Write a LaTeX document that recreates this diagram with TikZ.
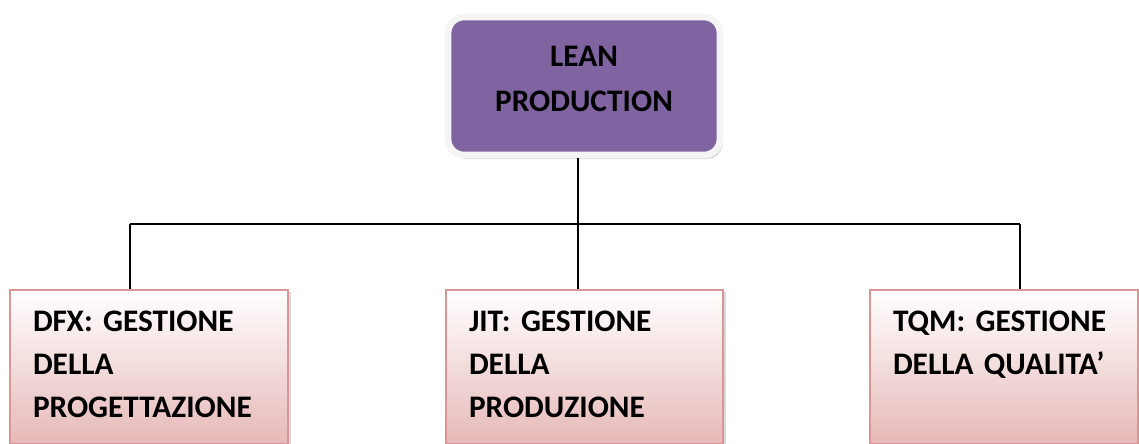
\documentclass[tikz,border=0pt]{standalone}
\usepackage{fontspec}
\setmainfont{Carlito}
\usetikzlibrary{positioning, shadows}
\definecolor{leanpurple}{HTML}{8064A2}
\definecolor{pinkline}{HTML}{D99694}
\definecolor{pinkfill}{HTML}{E6B9B8}
\frenchspacing
\DeclareRobustCommand\boxfont{\fontsize{23.5}{32.25}\selectfont\bfseries\spaceskip=0.2em\relax}
\tikzset{x=0.75pt, y=-0.75pt,
  leanbox/.style={font=\fontsize{23.5}{33.75}\selectfont\bfseries, rounded corners=12pt,
    fill=leanpurple, draw=gray!8, line width=5pt,
    minimum width=204pt, minimum height=103.5pt, align=center, text depth=10.5pt,
    drop shadow={shadow xshift=2pt, shadow yshift=-3pt, fill=gray!60}},
  areabox/.style={font=\boxfont, draw=pinkline, line width=1.5pt, top color=white, bottom color=pinkfill,
    anchor=north west, align=left, inner sep=17.25pt, text height=13.5pt, text depth=67.5pt,
    drop shadow={shadow xshift=2pt, shadow yshift=-1.5pt, fill=gray!50, opacity=0.6}},
  link/.style={line width=1.5pt}}
\begin{document}
\begin{tikzpicture}
\useasboundingbox (0,0) rectangle (1139,443);
\node[leanbox] (lean) at (584,86) {LEAN\\PRODUCTION};
\node[areabox, text width=174pt] (dfx) at (9,289) {DFX: GESTIONE\\DELLA\\PROGETTAZIONE};
\node[areabox, text width=173.25pt] (jit) at (445,289) {JIT: GESTIONE\\DELLA\\PRODUZIONE};
\node[areabox, text width=166.5pt] (tqm) at (869,289) {TQM: GESTIONE\\DELLA QUALITA’};
% tree lines
\coordinate (hub) at (578,224);
\coordinate (dfxtop) at (130,224);
\coordinate (tqmtop) at (1020,224);
\draw[link] (lean.south -| hub) -- (hub);
\draw[link] (dfxtop) -- (tqmtop);
\draw[link] (dfxtop) -- (dfxtop |- dfx.north);
\draw[link] (hub) -- (hub |- jit.north);
\draw[link] (tqmtop) -- (tqmtop |- tqm.north);
\end{tikzpicture}
\end{document}
